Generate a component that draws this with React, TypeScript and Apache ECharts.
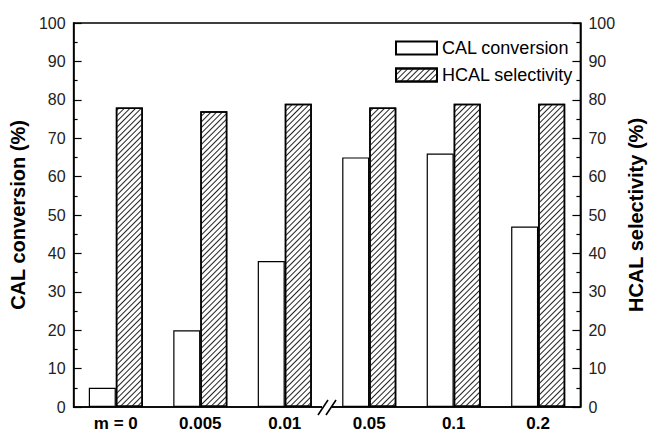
import React, { useEffect, useRef } from "react";
import * as echarts from "echarts";

const categories = ["m = 0", "0.005", "0.01", "0.05", "0.1", "0.2"];
const calConversion = [5, 20, 38, 65, 66, 47];
const hcalSelectivity = [78, 77, 79, 78, 79, 79];
const yTicks = { min: 0, max: 100, interval: 10 };

const FONT = "'Liberation Sans', Arial, Helvetica, sans-serif";

export default function App() {
  const ref = useRef<HTMLDivElement>(null);
  useEffect(() => {
    if (!ref.current) return;
    const chart = echarts.init(ref.current, null, { renderer: "svg" });
    const yAxisCommon = {
      type: "value",
      min: yTicks.min,
      max: yTicks.max,
      interval: yTicks.interval,
      nameLocation: "middle",
      nameRotate: 90,
      nameTextStyle: { fontFamily: FONT, fontSize: 20, fontWeight: "bold", color: "#000" },
      axisLine: { show: true, lineStyle: { color: "#000", width: 1.5 } },
      axisTick: { show: true, inside: true, length: 8, lineStyle: { color: "#000", width: 1.2 } },
      minorTick: { show: true, splitNumber: 2, length: 4, lineStyle: { color: "#000", width: 1.2 } },
      axisLabel: { fontFamily: FONT, fontSize: 16, color: "#222" },
      splitLine: { show: false },
    };
    chart.setOption({
      animation: false,
      backgroundColor: "#fff",
      grid: {
        left: 73,
        right: 59,
        top: 23,
        bottom: 26,
        show: true,
        borderColor: "#000",
        borderWidth: 1.5,
      },
      legend: {
        orient: "vertical",
        left: 390,
        top: 34,
        icon: "rect",
        itemWidth: 41,
        itemHeight: 13,
        itemGap: 9,
        textStyle: { fontFamily: FONT, fontSize: 18, color: "#000" },
        data: ["CAL conversion", "HCAL selectivity"],
      },
      xAxis: {
        type: "category",
        data: categories,
        axisLine: { lineStyle: { color: "#000", width: 1.5 } },
        axisTick: { show: false },
        axisLabel: { fontFamily: FONT, fontSize: 17, fontWeight: "bold", color: "#000", margin: 8 },
      },
      yAxis: [
        { ...yAxisCommon, name: "CAL conversion (%)", position: "left", nameGap: 44 },
        { ...yAxisCommon, name: "HCAL selectivity (%)", position: "right", nameGap: 36 },
      ],
      series: [
        {
          name: "CAL conversion",
          type: "bar",
          data: calConversion,
          yAxisIndex: 0,
          barWidth: "32%",
          barGap: "0%",
          itemStyle: { color: "#fff", borderColor: "#000", borderWidth: 1.2 },
        },
        {
          name: "HCAL selectivity",
          type: "bar",
          data: hcalSelectivity,
          yAxisIndex: 1,
          barWidth: "32%",
          barGap: "0%",
          itemStyle: {
            color: "#fff",
            borderColor: "#000",
            borderWidth: 1.5,
            decal: {
              symbol: "rect",
              color: "#222",
              backgroundColor: "#fff",
              dashArrayX: [1, 0],
              dashArrayY: [1, 3],
              rotation: -Math.PI / 4,
              symbolSize: 1,
            },
          },
        },
      ],
    });
    // axis break marks between categories 2 and 3
    const p2 = chart.convertToPixel({ xAxisIndex: 0 }, 2) as number;
    const p3 = chart.convertToPixel({ xAxisIndex: 0 }, 3) as number;
    const bx = (p2 + p3) / 2;
    const by = chart.convertToPixel({ yAxisIndex: 0 }, 0) as number;
    chart.setOption({
      graphic: [
        { type: "rect", shape: { x: bx - 5, y: by - 2, width: 10, height: 4 }, style: { fill: "#fff" }, z: 100 },
        { type: "line", shape: { x1: bx - 9, y1: by + 8, x2: bx + 1, y2: by - 7 }, style: { stroke: "#000", lineWidth: 1.6 }, z: 101 },
        { type: "line", shape: { x1: bx - 1, y1: by + 8, x2: bx + 9, y2: by - 7 }, style: { stroke: "#000", lineWidth: 1.6 }, z: 101 },
      ],
    });
    return () => chart.dispose();
  }, []);
  return <div ref={ref} style={{ width: 654, height: 433, position: "absolute", left: 0, top: 0 }} />;
}
